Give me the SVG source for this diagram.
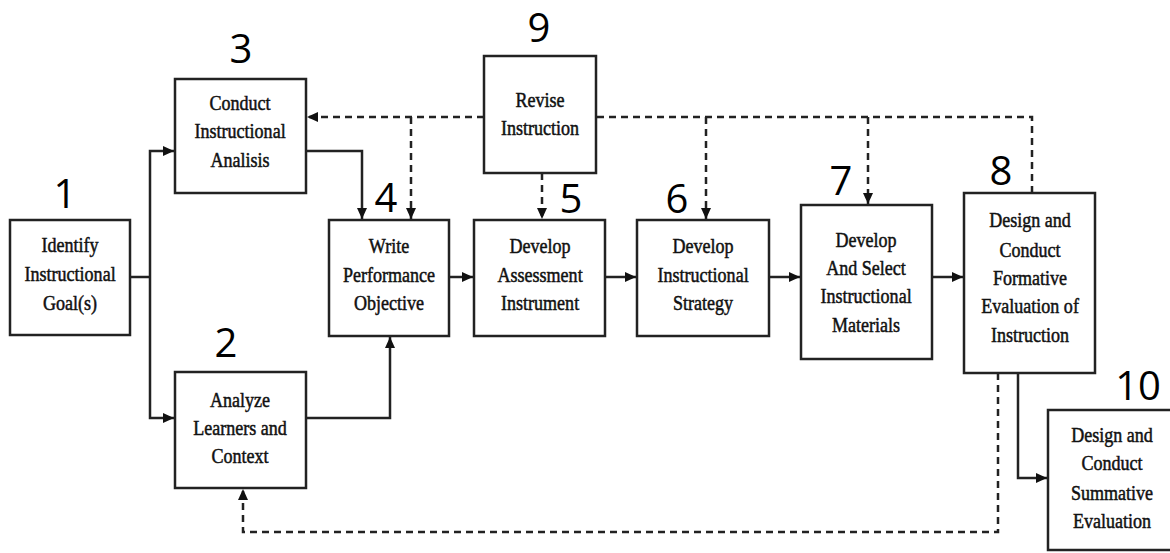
<svg xmlns="http://www.w3.org/2000/svg" width="1170" height="553" viewBox="0 0 1170 553">
<style>
.box{fill:#fff;stroke:#222;stroke-width:2.5}
.t{font-family:"Liberation Serif","Times New Roman",serif;font-size:21px;fill:#111;stroke:#111;stroke-width:0.5;text-anchor:middle;transform-box:fill-box;transform-origin:center;transform:scaleX(0.86)}
.n{font-family:"Open Sans","Liberation Sans",sans-serif;font-size:40px;fill:#000;text-anchor:middle}
.s{fill:none;stroke:#222;stroke-width:2.5}
.d{fill:none;stroke:#222;stroke-width:2.5;stroke-dasharray:7 5}
</style>
<defs>
<marker id="ah" markerUnits="userSpaceOnUse" markerWidth="12" markerHeight="10" refX="11" refY="5" orient="auto">
<path d="M0,0 L11,5 L0,10 z" fill="#111"/>
</marker>
</defs>
<rect width="1170" height="553" fill="#fff"/>
<g id="connectors">
<path class="s" d="M130,277 H150"/>
<path class="s" d="M150,277 V151 H174" marker-end="url(#ah)"/>
<path class="s" d="M150,277 V418 H174" marker-end="url(#ah)"/>
<path class="s" d="M306,151 H362 V219" marker-end="url(#ah)"/>
<path class="s" d="M306,418 H390 V337" marker-end="url(#ah)"/>
<path class="s" d="M449,277 H473" marker-end="url(#ah)"/>
<path class="s" d="M605,277 H636" marker-end="url(#ah)"/>
<path class="s" d="M769,277 H800" marker-end="url(#ah)"/>
<path class="s" d="M932,277 H963" marker-end="url(#ah)"/>
<path class="s" d="M1018,373 V478 H1047" marker-end="url(#ah)"/>
<path class="d" d="M484,117 H307" marker-end="url(#ah)"/>
<path class="d" d="M411,117 V219" marker-end="url(#ah)"/>
<path class="d" d="M542,173 V219" marker-end="url(#ah)"/>
<path class="d" d="M1032,193 V117 H596"/>
<path class="d" d="M706,117 V219" marker-end="url(#ah)"/>
<path class="d" d="M868,117 V204" marker-end="url(#ah)"/>
<path class="d" d="M998,373 V532 H243 V489" marker-end="url(#ah)"/>
</g>
<g id="node1">
<rect class="box" x="10" y="220" width="120" height="115"/>
<text class="t" x="70" y="252">Identify</text>
<text class="t" x="70" y="281">Instructional</text>
<text class="t" x="70" y="310">Goal(s)</text>
<text class="n" x="65" y="208">1</text>
</g>
<g id="node2">
<rect class="box" x="175" y="372" width="131" height="116"/>
<text class="t" x="240" y="407">Analyze</text>
<text class="t" x="240" y="435">Learners and</text>
<text class="t" x="240" y="463">Context</text>
<text class="n" x="226" y="357">2</text>
</g>
<g id="node3">
<rect class="box" x="175" y="79" width="131" height="114"/>
<text class="t" x="240" y="110">Conduct</text>
<text class="t" x="240" y="138">Instructional</text>
<text class="t" x="240" y="167">Analisis</text>
<text class="n" x="241" y="63">3</text>
</g>
<g id="node4">
<rect class="box" x="329" y="220" width="120" height="116"/>
<text class="t" x="389" y="253">Write</text>
<text class="t" x="389" y="282">Performance</text>
<text class="t" x="389" y="310">Objective</text>
<text class="n" x="386" y="212">4</text>
</g>
<g id="node5">
<rect class="box" x="474" y="220" width="131" height="116"/>
<text class="t" x="540" y="253">Develop</text>
<text class="t" x="540" y="282">Assessment</text>
<text class="t" x="540" y="310">Instrument</text>
<text class="n" x="571" y="213">5</text>
</g>
<g id="node6">
<rect class="box" x="637" y="220" width="132" height="116"/>
<text class="t" x="703" y="253">Develop</text>
<text class="t" x="703" y="282">Instructional</text>
<text class="t" x="703" y="310">Strategy</text>
<text class="n" x="677" y="213">6</text>
</g>
<g id="node7">
<rect class="box" x="801" y="205" width="131" height="154"/>
<text class="t" x="866" y="247">Develop</text>
<text class="t" x="866" y="275">And Select</text>
<text class="t" x="866" y="303">Instructional</text>
<text class="t" x="866" y="332">Materials</text>
<text class="n" x="841" y="195">7</text>
</g>
<g id="node8">
<rect class="box" x="964" y="193" width="131" height="180"/>
<text class="t" x="1030" y="227">Design and</text>
<text class="t" x="1030" y="257">Conduct</text>
<text class="t" x="1030" y="285">Formative</text>
<text class="t" x="1030" y="313">Evaluation of</text>
<text class="t" x="1030" y="342">Instruction</text>
<text class="n" x="1001" y="185">8</text>
</g>
<g id="node9">
<rect class="box" x="484" y="56" width="112" height="117"/>
<text class="t" x="540" y="107">Revise</text>
<text class="t" x="540" y="135">Instruction</text>
<text class="n" x="539" y="42">9</text>
</g>
<g id="node10">
<rect class="box" x="1048" y="410" width="128" height="140"/>
<text class="t" x="1112" y="442">Design and</text>
<text class="t" x="1112" y="470">Conduct</text>
<text class="t" x="1112" y="500">Summative</text>
<text class="t" x="1112" y="528">Evaluation</text>
<text class="n" x="1138" y="400">10</text>
</g>
</svg>
